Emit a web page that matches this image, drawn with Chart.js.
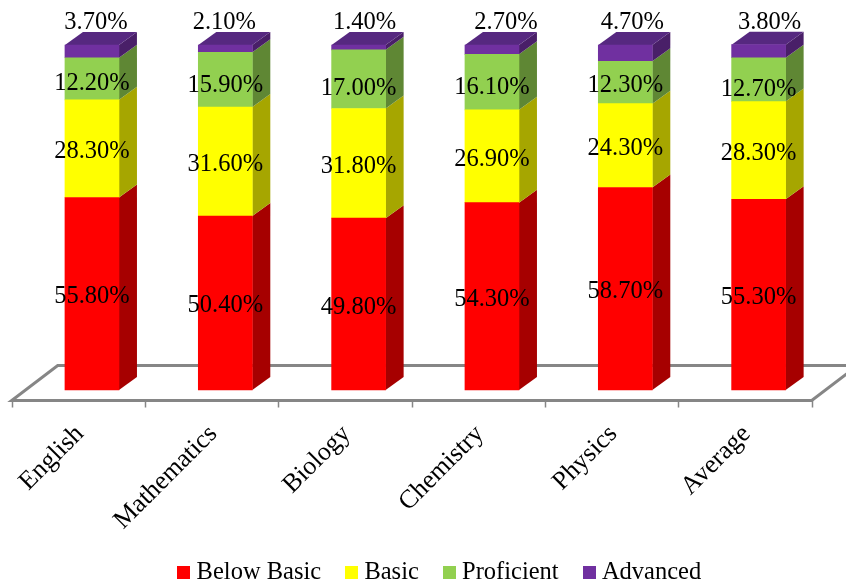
<!DOCTYPE html>
<html>
<head>
<meta charset="utf-8">
<title>Performance levels by subject</title>
<script src="https://cdn.jsdelivr.net/npm/chart.js@4/dist/chart.umd.min.js"></script>
<style>
    html, body { margin: 0; padding: 0; background: #fff; }
    #wrap { width: 846px; height: 583px; overflow: hidden; }
</style>
</head>
<body>
<div id="wrap"><canvas id="levelsChart" width="846" height="583"></canvas></div>
<script>
const subjects = ["English", "Mathematics", "Biology", "Chemistry", "Physics", "Average"];
const belowBasic = [55.8, 50.4, 49.8, 54.3, 58.7, 55.3];
const basic = [28.3, 31.6, 31.8, 26.9, 24.3, 28.3];
const proficient = [12.2, 15.9, 17.0, 16.1, 12.3, 12.7];
const advanced = [3.7, 2.1, 1.4, 2.7, 4.7, 3.8];

const FONT = '"Liberation Serif", "Times New Roman", serif';
const DEPTH_X = 18, DEPTH_Y = 13;
const FLOOR_X = 46, FLOOR_Y = 35;
const AXIS_DROP = 10.5, AXIS_SHIFT = 13.6;

// hand placed data labels: the top row floats above the bars
const advancedLabelDx = [4, -1, 6, 14, 7, 11];
const proficientLabelDy = [5, 6, 9, 5, 3, 10];

function legendSquare(color) {
    const c = document.createElement("canvas");
    c.width = 13;
    c.height = 13;
    const g = c.getContext("2d");
    g.fillStyle = color;
    g.fillRect(0, 0, 13, 13);
    return c;
}

function makeSeries(label, data, front, side, top) {
    return { label, data, backgroundColor: front, sideColor: side, topColor: top, borderWidth: 0, clip: false };
}

const series = [
    makeSeries("Below Basic", belowBasic, "#FF0000", "#A60000"),
    makeSeries("Basic", basic, "#FFFF00", "#A6A600"),
    makeSeries("Proficient", proficient, "#92D050", "#5F8734"),
    makeSeries("Advanced", advanced, "#7030A0", "#491F68", "#562880")
];

function fillPoly(ctx, color, pts) {
    ctx.fillStyle = color;
    ctx.beginPath();
    pts.forEach((p, i) => i ? ctx.lineTo(p[0], p[1]) : ctx.moveTo(p[0], p[1]));
    ctx.closePath();
    ctx.fill();
}

// floor, side faces and top faces go under the flat bars
const boxes = {
    id: "boxes",
    afterLayout(chart) {
        chart.legend.left += 17;
        chart.legend.right += 17;
        chart.legend.top = 530;
        // long rotated labels get cut at the scale's box otherwise
        chart.scales.x.bottom = chart.height;
    },
    beforeDatasetsDraw(chart) {
        const ctx = chart.ctx;
        const xs = chart.scales.x;
        const step = xs.getPixelForValue(1) - xs.getPixelForValue(0);
        const left = xs.getPixelForValue(0) - step / 2 - AXIS_SHIFT;
        const right = left + step * subjects.length;
        const front = chart.scales.y.bottom + AXIS_DROP;

        ctx.save();
        ctx.strokeStyle = "#868686";
        ctx.lineWidth = 3;
        ctx.beginPath();
        ctx.moveTo(right + FLOOR_X, front - FLOOR_Y);
        ctx.lineTo(left + FLOOR_X, front - FLOOR_Y);
        ctx.lineTo(left, front);
        ctx.lineTo(right, front);
        ctx.lineTo(right + FLOOR_X, front - FLOOR_Y);
        ctx.stroke();
        ctx.lineWidth = 1.5;
        ctx.beginPath();
        for (let i = 0; i <= subjects.length; i++) {
            const x = Math.round(left + step * i) + 0.5;
            ctx.moveTo(x, front);
            ctx.lineTo(x, front + 7);
        }
        ctx.stroke();

        chart.data.datasets.forEach((ds, d) => {
            chart.getDatasetMeta(d).data.forEach(bar => {
                const r = bar.x + bar.width / 2;
                const l = bar.x - bar.width / 2;
                fillPoly(ctx, ds.sideColor, [
                    [r, bar.y], [r + DEPTH_X, bar.y - DEPTH_Y],
                    [r + DEPTH_X, bar.base - DEPTH_Y], [r, bar.base]
                ]);
                if (ds.topColor) {
                    fillPoly(ctx, ds.topColor, [
                        [l, bar.y], [l + DEPTH_X, bar.y - DEPTH_Y],
                        [r + DEPTH_X, bar.y - DEPTH_Y], [r, bar.y]
                    ]);
                }
            });
        });
        ctx.restore();
    },
    afterDatasetsDraw(chart) {
        const ctx = chart.ctx;
        ctx.save();
        ctx.fillStyle = "#000";
        ctx.font = "24.5px " + FONT;
        ctx.textAlign = "center";
        ctx.textBaseline = "middle";
        chart.data.datasets.forEach((ds, d) => {
            chart.getDatasetMeta(d).data.forEach((bar, i) => {
                const text = ds.data[i].toFixed(2) + "%";
                if (ds.data === advanced) {
                    ctx.fillText(text, bar.x + advancedLabelDx[i], bar.y - 22);
                } else {
                    const dy = ds.data === proficient ? proficientLabelDy[i] : 3;
                    ctx.fillText(text, bar.x, (bar.y + bar.base) / 2 + dy);
                }
            });
        });
        ctx.restore();
    }
};

new Chart(document.getElementById("levelsChart"), {
    type: "bar",
    data: { labels: subjects, datasets: series },
    plugins: [boxes],
    options: {
        responsive: false,
        animation: false,
        layout: { padding: { left: 25.3, right: 20.7, top: 45, bottom: 0 } },
        datasets: { bar: { barThickness: 54 } },
        scales: {
            x: {
                stacked: true,
                offset: true,
                border: { display: false },
                grid: { display: false },
                afterFit(scale) {
                    scale.height = 193 - scale.chart.legend.height;
                },
                ticks: {
                    color: "#000",
                    font: { family: FONT, size: 26 },
                    minRotation: 45,
                    maxRotation: 45,
                    padding: 21,
                    labelOffset: -12,
                    autoSkip: false
                }
            },
            y: { display: false, stacked: true, min: 0, max: 100 }
        },
        plugins: {
            tooltip: { enabled: false },
            legend: {
                position: "bottom",
                labels: {
                    color: "#000",
                    font: { family: FONT, size: 24.5 },
                    usePointStyle: true,
                    pointStyleWidth: 1,
                    padding: 30,
                    generateLabels(chart) {
                        return Chart.defaults.plugins.legend.labels.generateLabels(chart).map((item, i) => {
                            item.pointStyle = legendSquare(series[i].backgroundColor);
                            return item;
                        });
                    }
                }
            }
        }
    }
});
</script>
</body>
</html>
